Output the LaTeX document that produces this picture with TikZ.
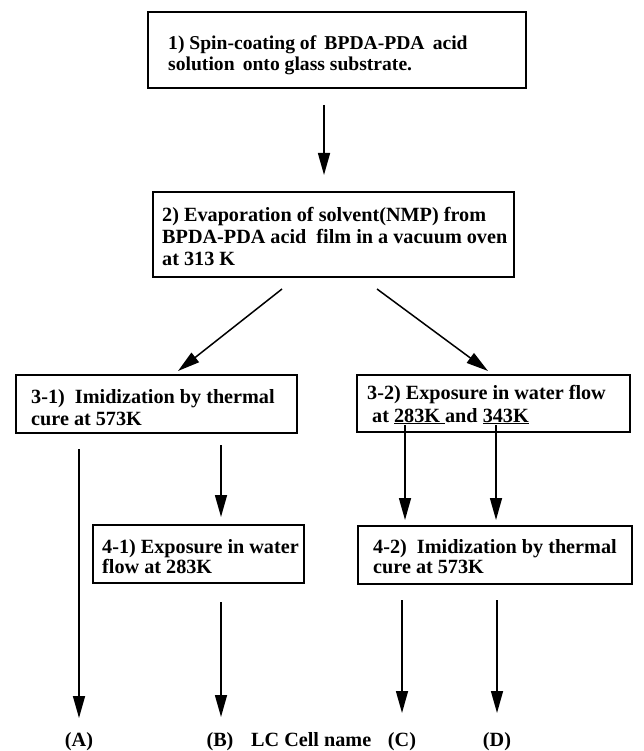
\documentclass[tikz,border=0pt]{standalone}
\usepackage{fontspec}
\setmainfont{Liberation Serif}
\usetikzlibrary{arrows.meta}
\begin{document}
\begin{tikzpicture}[x=1pt,y=-1pt,
  boxline/.style={draw, line width=1.7pt},
  txt/.style={inner sep=0pt, anchor=base west, font=\fontsize{20.2}{21}\selectfont\bfseries},
  txtone/.style={txt, font=\fontsize{19.6}{21}\selectfont\bfseries},
  arr/.style={line width=1.5pt, -{Triangle[length=22pt,width=12pt]}},
  plain/.style={line width=1.4pt}]
\useasboundingbox (0,0) rectangle (644,751);
% boxes
\draw[boxline] (148,12) rectangle (526,88);
\draw[boxline] (153,192) rectangle (514,277);
\draw[boxline] (16,375) rectangle (297,433);
\draw[boxline] (357,375) rectangle (630,432);
\draw[boxline] (93,525) rectangle (304,583);
\draw[boxline] (358,526) rectangle (632,584);
% texts
\node[txtone] (t1a) at (168,50) {1) Spin-coating of \,BPDA-PDA \,acid};
\node[txtone] (t1b) at (168,71) {solution \,onto glass substrate.};
\node[txt] (t2a) at (162,222) {2) Evaporation of solvent(NMP) from};
\node[txt] (t2b) at (162,243.5) {BPDA-PDA acid\ \ film in a vacuum oven};
\node[txt] (t2c) at (162,265) {at 313 K};
\node[txt] (t31a) at (31,403) {3-1)\ \ Imidization by thermal};
\node[txt] (t31b) at (31,425) {cure at 573K};
\node[txt] (t32a) at (367,399) {3-2) Exposure in water flow};
\node[txt] (t32b) at (372,422) {at \underline{283K\ }and \underline{343K}};
\node[txt] (t41a) at (102,553) {4-1) Exposure in water};
\node[txt] (t41b) at (102,573) {flow at 283K};
\node[txt] (t42a) at (373,553) {4-2)\ \ Imidization by thermal};
\node[txt] (t42b) at (373,573) {cure at 573K};
% bottom labels
\node[txt, anchor=base] (lA) at (79,746) {(A)};
\node[txt, anchor=base] (lB) at (220,746) {(B)};
\node[txt] (lLC) at (251,746) {LC Cell name};
\node[txt, anchor=base] (lC) at (402,746) {(C)};
\node[txt, anchor=base] (lD) at (497,746) {(D)};
% connector coordinates
\coordinate (a1s) at (324,105); \coordinate (a1e) at (324,175);
\coordinate (dls) at (282,289); \coordinate (dle) at (178,371);
\coordinate (drs) at (377,289); \coordinate (dre) at (488,371);
\coordinate (aAs) at (79,449);  \coordinate (aAe) at (79,718);
\coordinate (a41s) at (221,445); \coordinate (a41e) at (221,517);
\coordinate (aBs) at (221,602);  \coordinate (aBe) at (221,717);
\coordinate (s283) at (405,425); \coordinate (e283) at (405,520);
\coordinate (s343) at (496,425); \coordinate (e343) at (496,520);
\coordinate (aCs) at (402,600); \coordinate (aCe) at (402,713);
\coordinate (aDs) at (497,600); \coordinate (aDe) at (497,713);
% connectors
\draw[arr] (a1s) -- (a1e);
\draw[arr] (dls) -- (dle);
\draw[arr] (drs) -- (dre);
\draw[arr] (aAs) -- (aAe);
\draw[arr] (a41s) -- (a41e);
\draw[arr] (aBs) -- (aBe);
\draw[arr] (s283) -- (e283);
\draw[arr] (s343) -- (e343);
\draw[arr] (aCs) -- (aCe);
\draw[arr] (aDs) -- (aDe);
\end{tikzpicture}
\end{document}
